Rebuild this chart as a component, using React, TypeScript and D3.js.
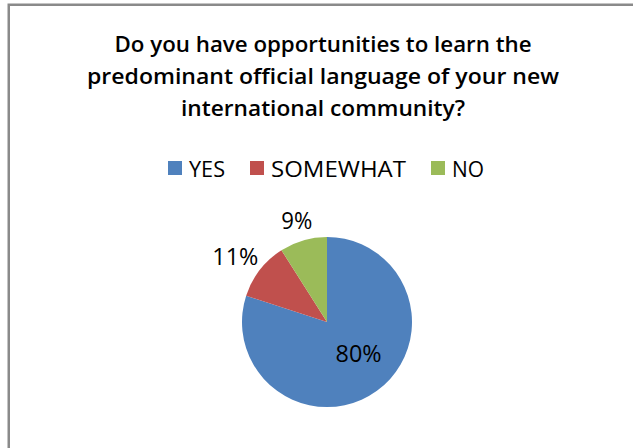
import React from "react";
import * as d3 from "d3";

const titleLines = [
  "Do you have opportunities to learn the",
  "predominant official language of your new",
  "international community?",
];
const categories = ["YES", "SOMEWHAT", "NO"];
const values = [80, 11, 9];
const colors = ["#4F81BD", "#C0504D", "#9BBB59"];
const labelTexts = ["80%", "11%", "9%"];

const W = 633;
const H = 448;
const cx = 327;
const cy = 322;
const R = 85;

const titleWidths = [417, 472, 284];
const legendTextWidths = [36, 135, 32];
const labelWidths = [46, 46, 31];

export default function App() {
  const data = categories.map((c, i) => ({ cat: c, value: values[i], color: colors[i], label: labelTexts[i], lw: labelWidths[i] }));
  const pie = d3.pie<any>().value((d: any) => d.value).sort(null).startAngle(0).endAngle(2 * Math.PI);
  const arcs = pie(data);
  const arcGen = d3.arc<any>().innerRadius(0).outerRadius(R);

  // legend layout
  const legendY = 168;
  const sq = 14;
  const gapSqText = 7;
  const gapItems = 25;
  const itemWidths = legendTextWidths.map((w) => sq + gapSqText + w);
  const totalLegend = d3.sum(itemWidths) + gapItems * (itemWidths.length - 1);
  let lx = 323 - totalLegend / 2 + 3;
  const legendItems = categories.map((c, i) => {
    const x = lx;
    lx += itemWidths[i] + gapItems;
    return { c, x, color: colors[i], w: legendTextWidths[i] };
  });

  return (
    <svg width={W} height={H} style={{ position: "absolute", left: 0, top: 0, background: "#fff" }}
      fontFamily="'Open Sans', 'Liberation Sans', Arial, sans-serif">
      <rect x={8.75} y={4.75} width={W + 20} height={H + 20} fill="#fff" stroke="#8a8a8a" strokeWidth={2.5} />
      {titleLines.map((t, i) => (
        <text key={i} x={323} y={52 + i * 32} textAnchor="middle" fontWeight="600" fontSize={22}
          fill="#000" textLength={titleWidths[i]} lengthAdjust="spacingAndGlyphs">{t}</text>
      ))}
      {legendItems.map((it, i) => (
        <g key={i}>
          <rect x={it.x} y={legendY - 7} width={sq} height={sq} fill={it.color} />
          <text x={it.x + sq + gapSqText} y={legendY + 8.5} fontSize={22} fill="#000"
            textLength={it.w} lengthAdjust="spacingAndGlyphs">{it.c}</text>
        </g>
      ))}
      <g transform={`translate(${cx},${cy})`}>
        {arcs.map((a, i) => (
          <path key={i} d={arcGen(a) as string} fill={a.data.color} />
        ))}
        {arcs.map((a, i) => {
          const mid = (a.startAngle + a.endAngle) / 2;
          const s = Math.sin(mid);
          const c = Math.cos(mid);
          let x: number, y: number;
          if (a.data.value > 50) {
            const rr = R * 0.53;
            x = rr * Math.sin(mid - 0.15);
            y = -rr * Math.cos(mid - 0.15);
          } else {
            const rr = R + 8;
            x = rr * s + s * (a.data.lw / 2);
            y = -rr * c - c * 13;
          }
          return (
            <text key={i} x={x} y={y} dy="0.36em" textAnchor="middle" fontSize={23} fill="#000"
              textLength={a.data.lw} lengthAdjust="spacingAndGlyphs">{a.data.label}</text>
          );
        })}
      </g>
    </svg>
  );
}
